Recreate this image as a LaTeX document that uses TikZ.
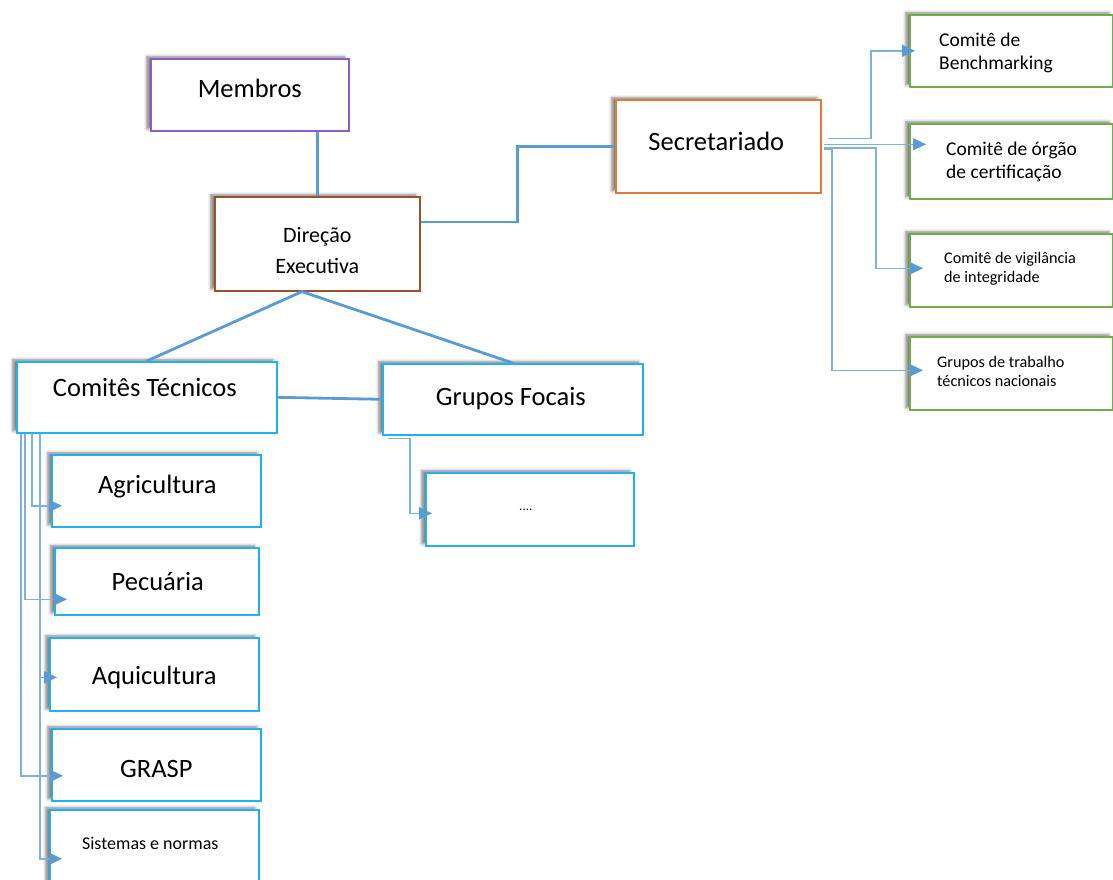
\documentclass[tikz,border=0pt]{standalone}
\usepackage{fontspec}
\setmainfont{Carlito}
\usetikzlibrary{calc,arrows.meta,shadows.blur}

\definecolor{linkblue}{HTML}{5B9BD5}
\definecolor{thinblue}{HTML}{7EB0E0}
\definecolor{cyanedge}{HTML}{1FB2EE}
\definecolor{greenedge}{HTML}{70AD47}
\definecolor{purpleedge}{HTML}{8E5CC6}
\definecolor{brownedge}{HTML}{9A5228}
\definecolor{orangeedge}{HTML}{E07838}

\newcommand\orgfontA{\fontsize{26.5}{31}\selectfont}
\newcommand\orgfontB{\fontsize{22}{31}\selectfont}
\newcommand\orgfontC{\fontsize{19.5}{23}\selectfont}
\newcommand\orgfontD{\fontsize{16.2}{19}\selectfont}
\newcommand\orgfontE{\fontsize{18}{22}\selectfont}
\newcommand\orgfontF{\fontsize{13}{16}\selectfont}

\tikzset{
  orgbox/.style={draw, line width=1.6pt, fill=white, inner sep=0pt, anchor=north west,
    blur shadow={shadow xshift=-4pt, shadow yshift=2pt, shadow blur radius=3pt, shadow opacity=50}},
  link/.style={draw=linkblue, line width=2.8pt},
  feed/.style={draw=thinblue, line width=1.5pt, -{Triangle[length=13pt,width=12pt,color=linkblue]}},
  sidetext/.style={align=left, anchor=west, inner sep=0pt},
}

\begin{document}
\begin{tikzpicture}[x=1pt,y=-1pt]
\useasboundingbox (0,0) rectangle (1113,879);

% boxes
\node[orgbox, draw=purpleedge, minimum width=198pt, minimum height=72pt] (membros) at (150,58) {};
\node[orgbox, draw=brownedge, minimum width=205pt, minimum height=94pt] (direcao) at (214,196) {};
\node[orgbox, draw=orangeedge, minimum width=205pt, minimum height=93pt] (secr) at (615,99) {};
\node[orgbox, draw=cyanedge, minimum width=260pt, minimum height=71pt] (comites) at (16,361) {};
\node[orgbox, draw=cyanedge, minimum width=260pt, minimum height=71pt] (gf) at (382,363) {};
\node[orgbox, draw=cyanedge, minimum width=208pt, minimum height=73pt] (dots) at (425,472) {};
\node[orgbox, draw=cyanedge, minimum width=209pt, minimum height=72pt] (agri) at (51,454) {};
\node[orgbox, draw=cyanedge, minimum width=204pt, minimum height=67pt] (pec) at (54,547) {};
\node[orgbox, draw=cyanedge, minimum width=209pt, minimum height=73pt] (aqui) at (49,637) {};
\node[orgbox, draw=cyanedge, minimum width=209pt, minimum height=72pt] (grasp) at (51,728) {};
\node[orgbox, draw=cyanedge, minimum width=209pt, minimum height=80pt] (sist) at (49,809) {};
\node[orgbox, draw=greenedge, minimum width=203pt, minimum height=72pt] (bench) at (909,14) {};
\node[orgbox, draw=greenedge, minimum width=203pt, minimum height=75pt] (cert) at (909,123) {};
\node[orgbox, draw=greenedge, minimum width=203pt, minimum height=73pt] (vig) at (909,233) {};
\node[orgbox, draw=greenedge, minimum width=203pt, minimum height=73pt] (gt) at (909,336) {};

% main links
\draw[link] (membros.south -| direcao.north) -- (direcao.north);
\draw[link] ($(direcao.north east)+(0,26)$) -| ($(direcao.north east)!.5!(secr.west)$) |- (secr.west);
\coordinate (dirFork) at ($(direcao.south west)+(88,0)$);
\draw[link] (comites.north) -- (dirFork) -- (gf.north);
\draw[link] (comites.east) -- (gf.west);

% focus group feed
\draw[feed] ($(gf.south west)+(6,3)$) -- ++(22,0) |- ($(dots.west)+(7,4)$);

% technical committees feeds
\draw[feed] ($(comites.south west)+(16,0)$) |- ($(agri.west)+(11,15)$);
\draw[feed] ($(comites.south west)+(9,0)$) |- ($(pec.west)+(13,18)$);
\draw[feed] ($(comites.south west)+(24,0)$) |- ($(aqui.west)+(8,3)$);
\draw[feed] ($(comites.south west)+(5,0)$) |- ($(grasp.west)+(12,11)$);
\draw[feed] ($(comites.south west)+(24,0)$) |- ($(sist.west)+(13,9)$);

% secretariat feeds
\draw[feed] ($(secr.east)+(6,-8)$) -| ($(bench.west)+(-38,0)$) -- ($(bench.west)+(6,0)$);
\draw[feed] ($(secr.east)+(2,-2)$) -- ($(secr.east -| cert.west)+(17,-2)$);
\draw[feed] ($(secr.east)+(2,1.5)$) -| ($(vig.west)+(-33,-2)$) -- ($(vig.west)+(14,-2)$);
\draw[feed] ($(secr.east)+(2,2.5)$) -| ($(gt.west)+(-77,-3)$) -- ($(gt.west)+(14,-3)$);

% labels
\node[font=\orgfontA] (membrosT) at ($(membros.center)+(0,-6)$) {Membros};
\node[font=\orgfontB, align=center] (direcaoT) at ($(direcao.center)+(0,7)$) {Direção\\Executiva};
\node[font=\orgfontA] (secrT) at ($(secr.center)+(-2,-5)$) {Secretariado};
\node[font=\orgfontA] (comitesT) at ($(comites.center)+(-2,-10)$) {Comitês Técnicos};
\node[font=\orgfontA] (gfT) at ($(gf.center)+(-2,-1)$) {Grupos Focais};
\node[font=\orgfontF] (dotsT) at ($(dots.center)+(-4,1)$) {....};
\node[font=\orgfontA] (agriT) at ($(agri.center)+(1,-4)$) {Agricultura};
\node[font=\orgfontA] (pecT) at ($(pec.center)+(1,0)$) {Pecuária};
\node[font=\orgfontA] (aquiT) at ($(aqui.center)+(0,3)$) {Aquicultura};
\node[font=\orgfontA] (graspT) at ($(grasp.center)+(0,4)$) {GRASP};
\node[font=\orgfontE] (sistT) at ($(sist.center)+(-4,-6)$) {Sistemas e normas};
\node[font=\orgfontC, sidetext] (benchT) at ($(bench.west)+(30,2.5)$) {Comitê de\\Benchmarking};
\node[font=\orgfontC, sidetext] (certT) at ($(cert.west)+(37,1)$) {Comitê de órgão\\de certificação};
\node[font=\orgfontD, sidetext] (vigT) at ($(vig.west)+(35,-2)$) {Comitê de vigilância\\de integridade};
\node[font=\orgfontD, sidetext] (gtT) at ($(gt.west)+(28,-2)$) {Grupos de trabalho\\técnicos nacionais};
\end{tikzpicture}
\end{document}
